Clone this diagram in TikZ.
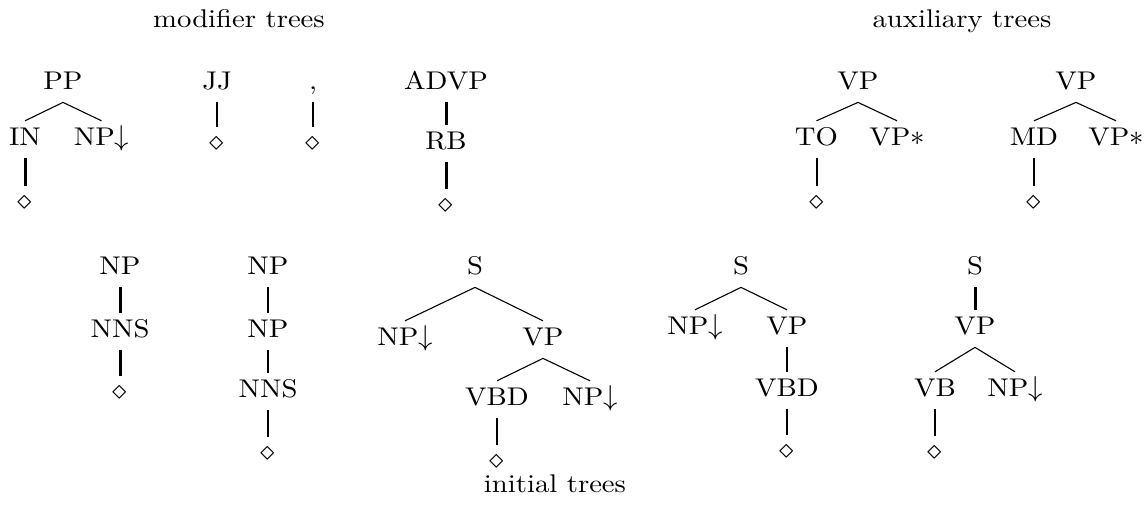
\documentclass[tikz,border=0pt]{standalone}
\font\lmten="[lmroman10-regular]:mapping=tex-text;extend=1.12" at 12.8pt
\newcommand{\treefont}{\fontsize{12.8}{15}\selectfont\lmten}
\newcommand{\subarr}{{\fontsize{14}{15}\selectfont$\downarrow$}}
\newcommand{\footstar}{{\fontsize{14}{15}\selectfont$*$}}
\tikzset{
  lbl/.style={anchor=base, inner xsep=0pt, inner ysep=6pt, text height=6.4pt, text depth=0pt, font=\treefont},
  ttl/.style={anchor=base, inner sep=0pt, font=\treefont},
  dia/.style={anchor=center, inner sep=0pt, text height=11.75pt, text depth=4.25pt, font=\fontsize{15}{16}\selectfont},
  thick edge/.style={line width=1.5pt},
  mid edge/.style={line width=1.0pt},
  thin edge/.style={line width=0.55pt},
}
\begin{document}
\begin{tikzpicture}[x=0.5pt,y=-0.5pt]
\useasboundingbox (0,0) rectangle (1148,506);
% titles
\node[ttl] (tmod) at (239,28) {modifier trees};
\node[ttl] (taux) at (962,28) {auxiliary trees};
\node[ttl] (tini) at (555,493) {initial trees};
% PP tree
\node[lbl] (pp) at (63,90) {PP};
\node[lbl] (in) at (25,146) {IN};
\node[lbl] (npa) at (101.5,146) {NP\subarr};
\node[dia] (ind) at (25,202) {$\diamond$};
\draw[thin edge] (pp.south) -- (in.north);
\draw[thin edge] (pp.south) -- (npa.north);
\draw[thick edge] (in.south) -- (ind.north);
% JJ
\node[lbl] (jj) at (217,90) {JJ};
\node[dia] (jjd) at (217,143) {$\diamond$};
\draw[mid edge] (jj.south) -- (jjd.north);
% comma
\node[lbl] (cm) at (313,90) {,};
\node[dia] (cmd) at (313,143) {$\diamond$};
\draw[mid edge] (cm.south) -- (cmd.north);
% ADVP
\node[lbl] (advp) at (446,90) {ADVP};
\node[lbl] (rb) at (446,150) {RB};
\node[dia] (rbd) at (446,205) {$\diamond$};
\draw[thick edge] (advp.south) -- (rb.north);
\draw[thick edge] (rb.south) -- (rbd.north);
% aux VP TO
\node[lbl] (vpa) at (858,90) {VP};
\node[lbl] (to) at (816.5,146) {TO};
\node[lbl] (vpsa) at (897,146) {VP\footstar};
\node[dia] (tod) at (816.5,202) {$\diamond$};
\draw[thin edge] (vpa.south) -- (to.north);
\draw[thin edge] (vpa.south) -- (vpsa.north);
\draw[mid edge] (to.south) -- (tod.north);
% aux VP MD
\node[lbl] (vpb) at (1076,90) {VP};
\node[lbl] (md) at (1034,146) {MD};
\node[lbl] (vpsb) at (1116,146) {VP\footstar};
\node[dia] (mdd) at (1034,202) {$\diamond$};
\draw[thin edge] (vpb.south) -- (md.north);
\draw[thin edge] (vpb.south) -- (vpsb.north);
\draw[mid edge] (md.south) -- (mdd.north);
% tree 1
\node[lbl] (np1) at (120,275) {NP};
\node[lbl] (nns1) at (120,338) {NNS};
\node[dia] (nns1d) at (120,392) {$\diamond$};
\draw[thick edge] (np1.south) -- (nns1.north);
\draw[thick edge] (nns1.south) -- (nns1d.north);
% tree 2
\node[lbl] (np2) at (268,275) {NP};
\node[lbl] (np2b) at (268,338) {NP};
\node[lbl] (nns2) at (268,398) {NNS};
\node[dia] (nns2d) at (268,453) {$\diamond$};
\draw[mid edge] (np2.south) -- (np2b.north);
\draw[mid edge] (np2b.south) -- (nns2.north);
\draw[mid edge] (nns2.south) -- (nns2d.north);
% tree 3
\node[lbl] (s3) at (475,275) {S};
\node[lbl] (np3) at (405,346) {NP\subarr};
\node[lbl] (vp3) at (543,346) {VP};
\node[lbl] (vbd3) at (497,406) {VBD};
\node[lbl] (np3b) at (590,406) {NP\subarr};
\node[dia] (vbd3d) at (497,461) {$\diamond$};
\draw[thin edge] (s3.south) -- (np3.north);
\draw[thin edge] (s3.south) -- (vp3.north);
\draw[thin edge] (vp3.south) -- (vbd3.north);
\draw[thin edge] (vp3.south) -- (np3b.north);
\draw[mid edge] (vbd3.south) -- (vbd3d.north);
% tree 4
\node[lbl] (s4) at (741,275) {S};
\node[lbl] (np4) at (695,335) {NP\subarr};
\node[lbl] (vp4) at (787,335) {VP};
\node[lbl] (vbd4) at (787,397) {VBD};
\node[dia] (vbd4d) at (787,451) {$\diamond$};
\draw[thin edge] (s4.south) -- (np4.north);
\draw[thin edge] (s4.south) -- (vp4.north);
\draw[mid edge] (vp4.south) -- (vbd4.north);
\draw[mid edge] (vbd4.south) -- (vbd4d.north);
% tree 5
\node[lbl] (s5) at (975,275) {S};
\node[lbl] (vp5) at (975,335) {VP};
\node[lbl] (vb5) at (935,397) {VB};
\node[lbl] (np5) at (1015,397) {NP\subarr};
\node[dia] (vb5d) at (935,452) {$\diamond$};
\draw[thick edge] (s5.south) -- (vp5.north);
\draw[thin edge] (vp5.south) -- (vb5.north);
\draw[thin edge] (vp5.south) -- (np5.north);
\draw[mid edge] (vb5.south) -- (vb5d.north);
\end{tikzpicture}
\end{document}
